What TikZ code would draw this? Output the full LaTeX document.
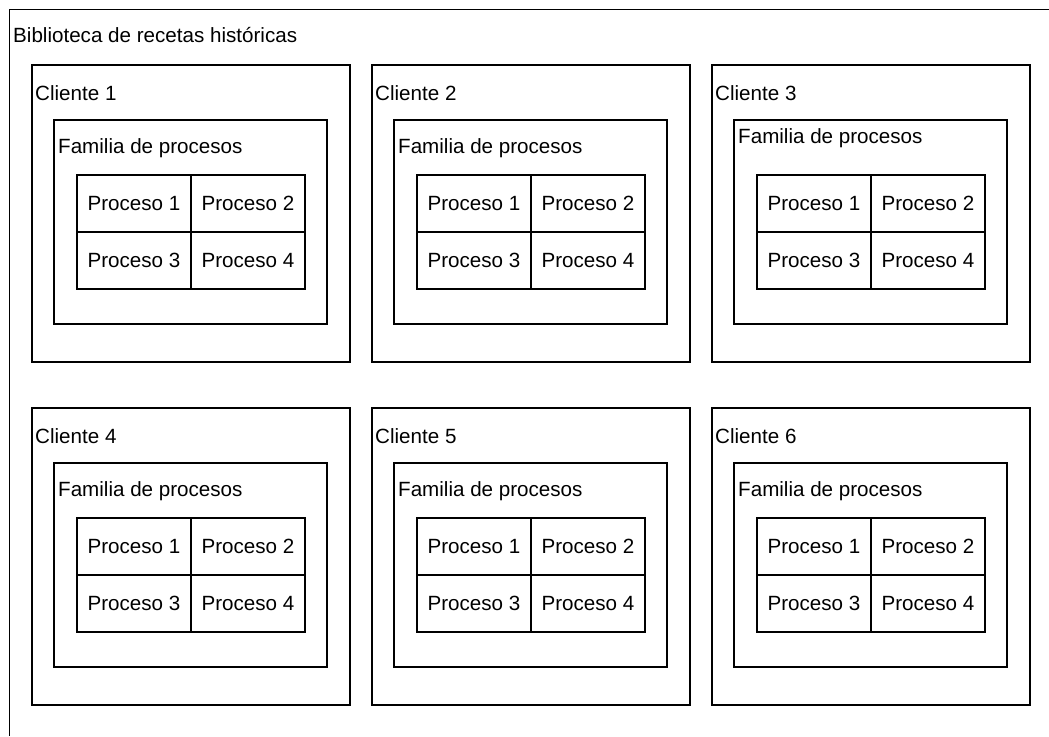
\documentclass[tikz,border=0pt]{standalone}
\usepackage{fontspec}
\setmainfont{Liberation Sans}
\begin{document}
\begin{tikzpicture}[x=1pt,y=-1pt,
  frame/.style={line width=1.4pt},
  cell/.style={draw,line width=1.4pt,minimum width=114pt,minimum height=57pt,inner sep=0pt},
  txt/.style={anchor=west,inner sep=0pt,font=\fontsize{20.6}{24}\selectfont}]
\useasboundingbox (0,0) rectangle (1049,736);
\draw[line width=0.9pt] (1049,9) -- (9,9) -- (9,736);
\node[txt] (biblio) at (13,35) {Biblioteca de recetas históricas};
\foreach \i in {1,...,6}
{
  \pgfmathtruncatemacro{\c}{mod(\i-1,3)}
  \pgfmathtruncatemacro{\r}{int((\i-1)/3)}
  \pgfmathsetmacro{\xo}{32+340*\c}
  \pgfmathsetmacro{\yo}{65+343*\r}
  \pgfmathsetmacro{\fy}{ifthenelse(\i==3,73,83)}
  \draw[frame] (\xo,\yo) rectangle +(318,297);
  \node[txt] (cliente\i) at (\xo+3,\yo+28) {Cliente \i};
  \draw[frame] (\xo+22,\yo+55) rectangle +(273,204);
  \node[txt] (familia\i) at (\xo+26,\yo+\fy) {Familia de procesos};
  \foreach \p/\dx/\dy in {1/0/0,2/1/0,3/0/1,4/1/1}
  {
    \node[cell,font=\fontsize{20.6}{24}\selectfont] (proc\i-\p) at (\xo+102+114*\dx,\yo+138.5+57*\dy) {Proceso \p};
  }
}
\end{tikzpicture}
\end{document}
